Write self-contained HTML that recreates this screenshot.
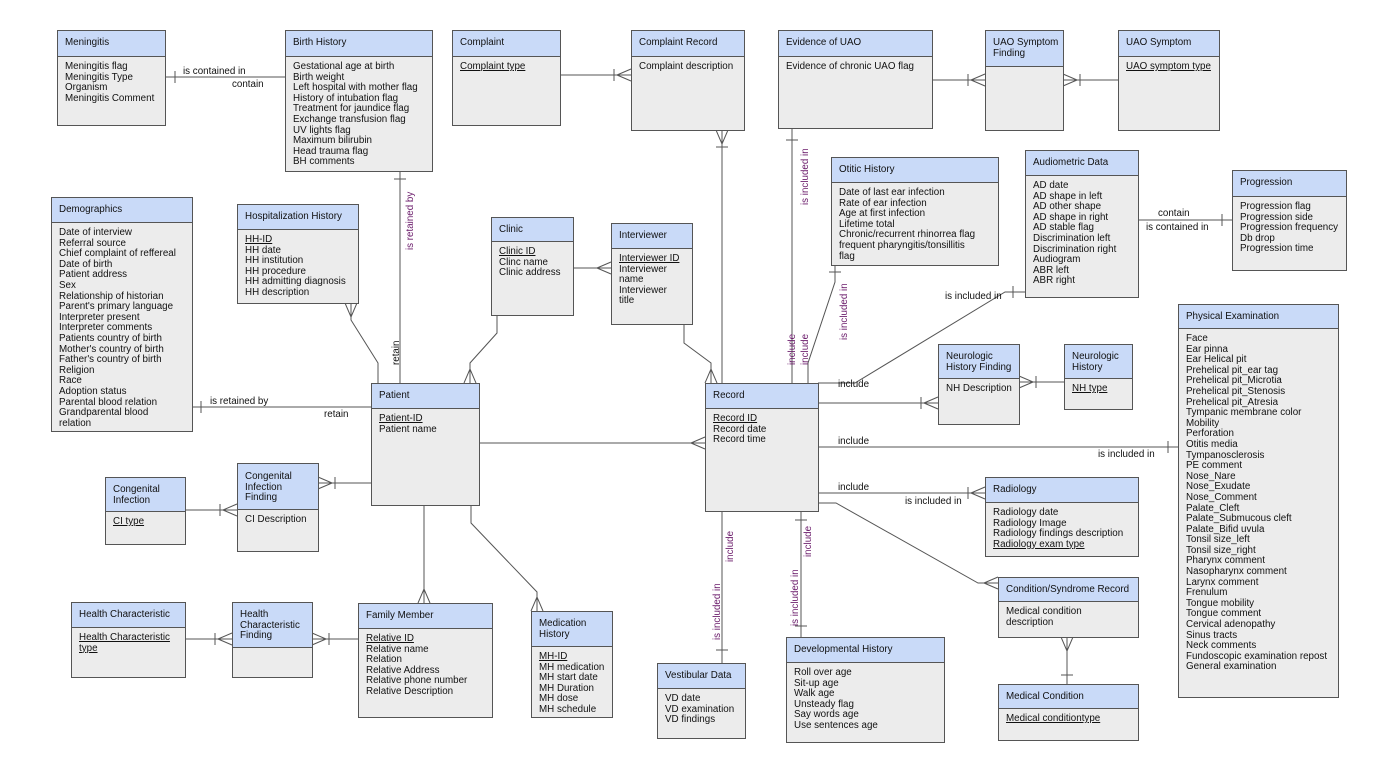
<!DOCTYPE html>
<html><head><meta charset="utf-8"><style>
body{margin:0;width:1385px;height:775px;background:#fff;position:relative;overflow:hidden;font-family:"Liberation Sans",sans-serif;font-size:9.8px;color:#111}
.b{position:absolute;background:#ececec;border:1px solid #555;box-sizing:border-box}
.h{background:#c9daf8;border-bottom:1px solid #555;padding:7px 7px 0;box-sizing:border-box;line-height:10.6px;white-space:nowrap}
.c{padding:5px 7px 0;line-height:10.6px;white-space:nowrap}
u{text-decoration:underline}
svg{position:absolute;left:0;top:0}
svg text{font-family:"Liberation Sans",sans-serif;font-size:9.8px}
.p{fill:#6a1a6a}
</style></head><body>
<svg width="1385" height="775" stroke="#555" stroke-width="1" fill="none">
<path d="M165 77H285M175 71V83M279 77H285" />
<path d="M400 171V383M394 179H406"/>
<path d="M351 303V320L378 363V383M345 303L351 317L357 303"/>
<path d="M192 407H371M201 401V413"/>
<path d="M497 315V333L470 363V383M464 383L470 369L476 383"/>
<path d="M573 268H611M597 268L611 262M597 268L611 274"/>
<path d="M684 324V343L711 363V383M705 383L711 369L717 383"/>
<path d="M479 443H705M691 443L705 437M691 443L705 449"/>
<path d="M560 75H631M617 75L631 69M617 75L631 81M614 69V81"/>
<path d="M722 130V383M716 130L722 144L728 130M716 147H728"/>
<path d="M792 128V383M786 140H798"/>
<path d="M835 265V282L808 363V383M829 272H841"/>
<path d="M1025 292H1005L855 383H818M1013 286V298"/>
<path d="M932 80H985M971 80L985 74M971 80L985 86M968 74V86"/>
<path d="M1063 80H1118M1077 80L1063 74M1077 80L1063 86M1080 74V86"/>
<path d="M1138 220H1232M1222 214V226"/>
<path d="M818 403H938M924 403L938 397M924 403L938 409M921 397V409"/>
<path d="M1019 382H1064M1033 382L1019 376M1033 382L1019 388M1036 376V388"/>
<path d="M818 447H1178M1168 441V453"/>
<path d="M818 493H985M971 493L985 487M971 493L985 499M968 487V499"/>
<path d="M818 503H836L978 583H998M984 583L998 577M984 583L998 589"/>
<path d="M1067 637V684M1061 637L1067 651L1073 637M1061 675H1073"/>
<path d="M722 511V663M716 650H728"/>
<path d="M801 511V637M795 520H807M795 626H807"/>
<path d="M318 483H371M332 483L318 477M332 483L318 489M335 477V489"/>
<path d="M185 510H237M223 510L237 504M223 510L237 516M220 504V516"/>
<path d="M424 505V603M418 603L424 589L430 603"/>
<path d="M471 505V523L537 592V611M531 611L537 597L543 611"/>
<path d="M185 639H232M218 639L232 633M218 639L232 645M215 633V645"/>
<path d="M312 639H358M326 639L312 633M326 639L312 645M329 633V645"/>
<g stroke="none" fill="#111">
<text x="183" y="74">is contained in</text>
<text x="232" y="87">contain</text>
<text x="210" y="404">is retained by</text>
<text x="324" y="417">retain</text>
<text x="838" y="387">include</text>
<text x="945" y="299">is included in</text>
<text x="1158" y="216">contain</text>
<text x="1146" y="230">is contained in</text>
<text x="838" y="444">include</text>
<text x="1098" y="457">is included in</text>
<text x="838" y="490">include</text>
<text x="905" y="504">is included in</text>
</g>
<g stroke="none" class="p">
<text transform="translate(413,250) rotate(-90)">is retained by</text>
<text transform="translate(399,365) rotate(-90)" style="fill:#111">retain</text>
<text transform="translate(808,205) rotate(-90)">is included in</text>
<text transform="translate(795,365) rotate(-90)">include</text>
<text transform="translate(808,365) rotate(-90)">include</text>
<text transform="translate(847,340) rotate(-90)">is included in</text>
<text transform="translate(733,562) rotate(-90)">include</text>
<text transform="translate(720,640) rotate(-90)">is included in</text>
<text transform="translate(811,557) rotate(-90)">include</text>
<text transform="translate(798,626) rotate(-90)">is included in</text>
</g>
</svg>

<div class="b" style="left:57px;top:30px;width:109px;height:96px"><div class="h" style="height:26px">Meningitis</div><div class="c">Meningitis flag<br>Meningitis Type<br>Organism<br>Meningitis Comment</div></div>
<div class="b" style="left:285px;top:30px;width:148px;height:142px"><div class="h" style="height:26px">Birth History</div><div class="c">Gestational age at birth<br>Birth weight<br>Left hospital with mother flag<br>History of intubation flag<br>Treatment for jaundice flag<br>Exchange transfusion flag<br>UV lights flag<br>Maximum bilirubin<br>Head trauma flag<br>BH comments</div></div>
<div class="b" style="left:452px;top:30px;width:109px;height:96px"><div class="h" style="height:26px">Complaint</div><div class="c"><u>Complaint type</u></div></div>
<div class="b" style="left:631px;top:30px;width:114px;height:101px"><div class="h" style="height:26px">Complaint Record</div><div class="c">Complaint description</div></div>
<div class="b" style="left:778px;top:30px;width:155px;height:99px"><div class="h" style="height:26px">Evidence of UAO</div><div class="c">Evidence of chronic UAO flag</div></div>
<div class="b" style="left:985px;top:30px;width:79px;height:101px"><div class="h" style="height:36px">UAO Symptom<br>Finding</div></div>
<div class="b" style="left:1118px;top:30px;width:102px;height:101px"><div class="h" style="height:26px">UAO Symptom</div><div class="c"><u>UAO symptom type</u></div></div>
<div class="b" style="left:831px;top:157px;width:168px;height:109px"><div class="h" style="height:25px">Otitic History</div><div class="c">Date of last ear infection<br>Rate of ear infection<br>Age at first infection<br>Lifetime total<br>Chronic/recurrent rhinorrea flag<br>frequent pharyngitis/tonsillitis<br>flag</div></div>
<div class="b" style="left:1025px;top:150px;width:114px;height:148px"><div class="h" style="height:25px">Audiometric Data</div><div class="c">AD date<br>AD shape in left<br>AD other shape<br>AD shape in right<br>AD stable flag<br>Discrimination left<br>Discrimination right<br>Audiogram<br>ABR left<br>ABR right</div></div>
<div class="b" style="left:1232px;top:170px;width:115px;height:101px"><div class="h" style="height:26px">Progression</div><div class="c">Progression flag<br>Progression side<br>Progression frequency<br>Db drop<br>Progression time</div></div>
<div class="b" style="left:51px;top:197px;width:142px;height:235px"><div class="h" style="height:25px">Demographics</div><div class="c">Date of interview<br>Referral source<br>Chief complaint of reffereal<br>Date of birth<br>Patient address<br>Sex<br>Relationship of historian<br>Parent's primary language<br>Interpreter present<br>Interpreter comments<br>Patients country of birth<br>Mother's country of birth<br>Father's country of birth<br>Religion<br>Race<br>Adoption status<br>Parental blood relation<br>Grandparental blood<br>relation</div></div>
<div class="b" style="left:237px;top:204px;width:122px;height:100px"><div class="h" style="height:25px">Hospitalization History</div><div class="c"><u>HH-ID</u><br>HH date<br>HH institution<br>HH procedure<br>HH admitting diagnosis<br>HH description</div></div>
<div class="b" style="left:491px;top:217px;width:83px;height:99px"><div class="h" style="height:24px">Clinic</div><div class="c"><u>Clinic ID</u><br>Clinc name<br>Clinic address</div></div>
<div class="b" style="left:611px;top:223px;width:82px;height:102px"><div class="h" style="height:25px">Interviewer</div><div class="c"><u>Interviewer ID</u><br>Interviewer<br>name<br>Interviewer<br>title</div></div>
<div class="b" style="left:1178px;top:304px;width:161px;height:394px"><div class="h" style="height:24px">Physical Examination</div><div class="c">Face<br>Ear pinna<br>Ear Helical pit<br>Prehelical pit_ear tag<br>Prehelical pit_Microtia<br>Prehelical pit_Stenosis<br>Prehelical pit_Atresia<br>Tympanic membrane color<br>Mobility<br>Perforation<br>Otitis media<br>Tympanosclerosis<br>PE comment<br>Nose_Nare<br>Nose_Exudate<br>Nose_Comment<br>Palate_Cleft<br>Palate_Submucous cleft<br>Palate_Bifid uvula<br>Tonsil size_left<br>Tonsil size_right<br>Pharynx comment<br>Nasopharynx comment<br>Larynx comment<br>Frenulum<br>Tongue mobility<br>Tongue comment<br>Cervical adenopathy<br>Sinus tracts<br>Neck comments<br>Fundoscopic examination repost<br>General examination</div></div>
<div class="b" style="left:938px;top:344px;width:82px;height:81px"><div class="h" style="height:34px">Neurologic<br>History Finding</div><div class="c">NH Description</div></div>
<div class="b" style="left:1064px;top:344px;width:69px;height:66px"><div class="h" style="height:34px">Neurologic<br>History</div><div class="c"><u>NH type</u></div></div>
<div class="b" style="left:371px;top:383px;width:109px;height:123px"><div class="h" style="height:25px">Patient</div><div class="c"><u>Patient-ID</u><br>Patient name</div></div>
<div class="b" style="left:705px;top:383px;width:114px;height:129px"><div class="h" style="height:25px">Record</div><div class="c"><u>Record ID</u><br>Record date<br>Record time</div></div>
<div class="b" style="left:105px;top:477px;width:81px;height:68px"><div class="h" style="height:34px">Congenital<br>Infection</div><div class="c"><u>CI type</u></div></div>
<div class="b" style="left:237px;top:463px;width:82px;height:89px"><div class="h" style="height:46px;padding-top:8px">Congenital<br>Infection<br>Finding</div><div class="c">CI Description</div></div>
<div class="b" style="left:985px;top:477px;width:154px;height:80px"><div class="h" style="height:25px">Radiology</div><div class="c">Radiology date<br>Radiology Image<br>Radiology findings description<br><u>Radiology exam type</u></div></div>
<div class="b" style="left:998px;top:577px;width:141px;height:61px"><div class="h" style="height:24px">Condition/Syndrome Record</div><div class="c">Medical condition<br>description</div></div>
<div class="b" style="left:998px;top:684px;width:141px;height:57px"><div class="h" style="height:24px">Medical Condition</div><div class="c"><u>Medical conditiontype</u></div></div>
<div class="b" style="left:71px;top:602px;width:115px;height:76px"><div class="h" style="height:25px">Health Characteristic</div><div class="c"><u>Health Characteristic<br>type</u></div></div>
<div class="b" style="left:232px;top:602px;width:81px;height:76px"><div class="h" style="height:45px">Health<br>Characteristic<br>Finding</div></div>
<div class="b" style="left:358px;top:603px;width:135px;height:115px"><div class="h" style="height:25px">Family Member</div><div class="c"><u>Relative ID</u><br>Relative name<br>Relation<br>Relative Address<br>Relative phone number<br>Relative Description</div></div>
<div class="b" style="left:531px;top:611px;width:82px;height:107px"><div class="h" style="height:35px">Medication<br>History</div><div class="c"><u>MH-ID</u><br>MH medication<br>MH start date<br>MH Duration<br>MH dose<br>MH schedule</div></div>
<div class="b" style="left:657px;top:663px;width:89px;height:76px"><div class="h" style="height:25px">Vestibular Data</div><div class="c">VD date<br>VD examination<br>VD findings</div></div>
<div class="b" style="left:786px;top:637px;width:159px;height:106px"><div class="h" style="height:25px">Developmental History</div><div class="c">Roll over age<br>Sit-up age<br>Walk age<br>Unsteady flag<br>Say words age<br>Use sentences age</div></div>
</body></html>
